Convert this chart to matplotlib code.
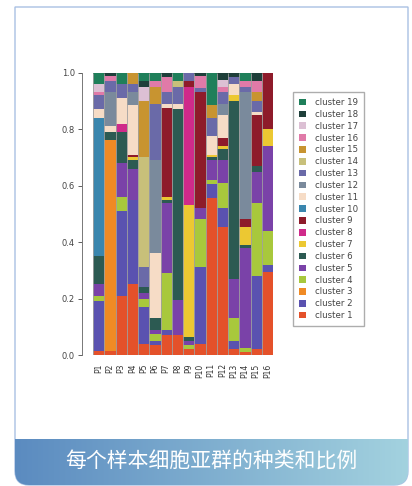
import numpy as np
import matplotlib
matplotlib.use('Agg')
import matplotlib.pyplot as plt
from matplotlib.path import Path
from matplotlib.patches import PathPatch
from matplotlib.colors import to_rgb

plt.rcParams['font.family'] = ['DejaVu Sans']

# 样本与亚群
samples = ['P%d' % i for i in range(1, 17)]
clusters = ['cluster %d' % i for i in range(1, 20)]

# 每个亚群在各样本中的比例（P1 ~ P16）
cluster_1 = [.015, .015, .21, .25, .04, .035, .07, .07, .02, .04, .555, .455, .02, .01, .02, .295]
cluster_2 = [.175, 0, .30, .30, .13, .015, .02, 0, 0, .27, .05, .065, .03, 0, .26, .025]
cluster_3 = [0, .745, 0, 0, 0, 0, 0, 0, 0, 0, 0, 0, 0, 0, 0, 0]
cluster_4 = [.02, 0, .05, 0, .03, .025, .20, 0, .015, .17, .015, .09, .08, .015, .26, .12]
cluster_5 = [.04, 0, .12, .11, .02, .015, .25, .125, .015, .04, .07, .08, .14, .355, .11, .30]
cluster_6 = [.10, .03, .11, .03, .02, .04, .01, .675, .015, 0, .01, .04, .63, .01, .02, 0]
cluster_7 = [0, 0, 0, .01, 0, 0, .01, 0, .465, 0, .01, .01, .02, .065, 0, .06]
cluster_8 = [0, 0, .03, 0, 0, 0, 0, 0, .42, 0, 0, 0, 0, 0, 0, 0]
cluster_9 = [0, 0, 0, .01, 0, 0, .315, 0, .02, .41, 0, .03, 0, .025, .18, .20]
cluster_10 = [.49, 0, 0, 0, 0, 0, 0, 0, 0, 0, 0, 0, 0, 0, 0, 0]
cluster_11 = [.03, .02, .09, .175, 0, .23, .015, .02, 0, 0, .065, .08, .04, 0, .01, 0]
cluster_12 = [0, .12, 0, .045, 0, .33, 0, 0, 0, 0, 0, .04, 0, .45, 0, 0]
cluster_13 = [.05, .04, .05, .03, .07, .20, .04, .06, .03, .015, .065, .04, .025, .02, .04, 0]
cluster_14 = [0, 0, 0, 0, .39, 0, 0, .02, 0, 0, 0, 0, 0, 0, 0, 0]
cluster_15 = [0, 0, 0, .04, .20, .06, 0, 0, 0, 0, .045, 0, 0, 0, .03, 0]
cluster_16 = [.01, .02, 0, 0, 0, .02, .055, 0, 0, .045, 0, .02, 0, .02, .04, 0]
cluster_17 = [.03, 0, 0, 0, .05, 0, 0, 0, 0, 0, 0, .025, 0, 0, 0, 0]
cluster_18 = [0, .01, 0, 0, .02, 0, .015, 0, 0, .01, 0, .025, .015, 0, .03, 0]
cluster_19 = [.04, 0, .04, 0, .03, .03, 0, .03, 0, 0, .115, 0, 0, .03, 0, 0]

props = [cluster_1, cluster_2, cluster_3, cluster_4, cluster_5, cluster_6, cluster_7,
         cluster_8, cluster_9, cluster_10, cluster_11, cluster_12, cluster_13, cluster_14,
         cluster_15, cluster_16, cluster_17, cluster_18, cluster_19]

colors = ['#e4512a', '#5a52b0', '#f08a24', '#a8c83c', '#7a42a8', '#2c5a52', '#ecc832',
          '#cf2a8a', '#8e1b2a', '#3a86ae', '#f6dcc6', '#7a8a9c', '#6a6aa8', '#c8c07a',
          '#c89430', '#e07aa8', '#dcc0d4', '#1e3f3a', '#1f7f5a']

W, H = 412, 486
fig = plt.figure(figsize=(W / 100, H / 100), dpi=100)

# 卡片背景 + 底部标题栏
bg = fig.add_axes([0, 0, 1, 1])
bg.axis('off')

L, R, T, B, r = 15, 408, 7, 485, 14
card = Path([(L, T), (R, T), (R, B - r), (R, B), (R - r, B), (L + r, B), (L, B), (L, B - r), (L, T)],
            [Path.MOVETO, Path.LINETO, Path.LINETO, Path.CURVE3, Path.CURVE3,
             Path.LINETO, Path.CURVE3, Path.CURVE3, Path.CLOSEPOLY])
bg.add_patch(PathPatch(card, facecolor='white', edgecolor='#a9c1e3', lw=1, zorder=1))

bar_top = 439
band = Path([(L, bar_top), (R, bar_top), (R, B - r), (R, B), (R - r, B), (L + r, B), (L, B), (L, B - r), (L, bar_top)],
            [Path.MOVETO, Path.LINETO, Path.LINETO, Path.CURVE3, Path.CURVE3,
             Path.LINETO, Path.CURVE3, Path.CURVE3, Path.CLOSEPOLY])
band_patch = PathPatch(band, facecolor='none', edgecolor='none')
bg.add_patch(band_patch)
c0, c1 = np.array(to_rgb('#5b8bc0')), np.array(to_rgb('#a3d2df'))
t = np.linspace(0, 1, 256)[None, :, None]
grad = c0 + (c1 - c0) * t
im = bg.imshow(grad, extent=(L, R, B, bar_top), aspect='auto', interpolation='bilinear', zorder=2)
im.set_clip_path(band_patch)
bg.text((L + R) / 2, 462, '每个样本细胞亚群的种类和比例', color='white', fontsize=15,
        ha='center', va='center', family=['Noto Sans CJK SC', 'DejaVu Sans'], zorder=3)
bg.set_xlim(0, W)
bg.set_ylim(H, 0)

# 堆叠柱状图
ax = fig.add_axes([93 / W, 131 / H, 180 / W, 282.3 / H])
ax.patch.set_alpha(0)
x = np.arange(len(samples))
bottom = np.zeros(len(samples))
handles = []
for vals, col, lab in zip(props, colors, clusters):
    h = ax.bar(x, vals, bottom=bottom, width=1.0, color=col, linewidth=0, label=lab)
    handles.append(h)
    bottom += np.array(vals)
ax.vlines(np.arange(-0.5, len(samples)), 0, 1, color='#a0a0a0', lw=0.6)

ax.set_xlim(-0.5, len(samples) - 0.5)
ax.set_ylim(0, 1)
for s in ['top', 'right', 'bottom']:
    ax.spines[s].set_visible(False)
ax.spines['left'].set_position(('outward', 8))
ax.spines['left'].set_bounds(0, 1)
ax.spines['left'].set_color('#777777')
ax.spines['left'].set_linewidth(0.7)
ax.set_yticks(np.linspace(0, 1, 6))
ax.set_yticklabels(['%.1f' % v for v in np.linspace(0, 1, 6)])
ax.tick_params(axis='y', labelsize=6, colors='#444444', length=3, width=0.6, pad=2)
ax.set_xticks(x)
ax.set_xticklabels(samples, rotation=90)
ax.tick_params(axis='x', labelsize=5.5, colors='#333333', length=0, pad=6)

fig.legend(handles[::-1], clusters[::-1], loc='upper left',
           bbox_to_anchor=(293 / W, 1 - 92 / H), fontsize=6.2, frameon=True,
           fancybox=False, edgecolor='#999999', handlelength=0.8, handleheight=0.8,
           handletextpad=1.0, labelspacing=0.33, borderpad=0.7, borderaxespad=0,
           labelcolor='#444444')

fig.savefig('out.png', dpi=100)
